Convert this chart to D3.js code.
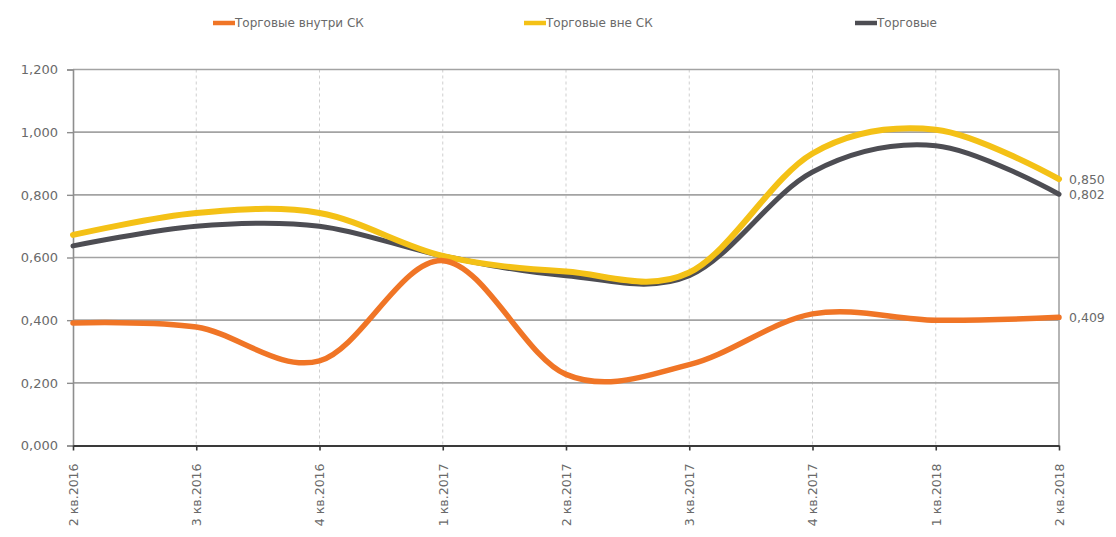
<!DOCTYPE html>
<html>
<head>
<meta charset="utf-8">
<script src="https://cdn.jsdelivr.net/npm/d3@7/dist/d3.min.js"></script>
<style>
  html, body { margin: 0; padding: 0; background: #fff; }
  svg { display: block; }
  text { font-family: "DejaVu Sans", Verdana, sans-serif; }
</style>
</head>
<body>
<svg id="chart" width="1116" height="537"></svg>
<script>
// Quarters on the x axis
const quarters = ["2 кв.2016", "3 кв.2016", "4 кв.2016", "1 кв.2017", "2 кв.2017",
                  "3 кв.2017", "4 кв.2017", "1 кв.2018", "2 кв.2018"];

// Series values per quarter
const insideSC  = [0.391, 0.378, 0.270, 0.590, 0.227, 0.258, 0.420, 0.400, 0.409];
const outsideSC = [0.672, 0.742, 0.742, 0.605, 0.555, 0.552, 0.932, 1.008, 0.850];
const retail    = [0.637, 0.700, 0.700, 0.605, 0.542, 0.542, 0.873, 0.957, 0.802];

const seriesNames = ["Торговые внутри СК", "Торговые вне СК", "Торговые"];
const yTicks = [0, 0.2, 0.4, 0.6, 0.8, 1.0, 1.2];

const series = [
  { name: seriesNames[0], values: insideSC,  color: "#f07526", width: 5.5 },
  { name: seriesNames[1], values: outsideSC, color: "#f4c116", width: 6 },
  { name: seriesNames[2], values: retail,    color: "#4d4d53", width: 5 }
];

const fmt = v => v.toFixed(3).replace(".", ",");

const svg = d3.select("#chart");
const plot = { left: 73, right: 1059, top: 69.5, bottom: 445.5 };

const x = d3.scalePoint().domain(quarters).range([plot.left, plot.right]);
const y = d3.scaleLinear().domain([0, 1.2]).range([plot.bottom, plot.top]);

// Vertical dashed gridlines
svg.append("g")
  .selectAll("line")
  .data(quarters.slice(1, -1))
  .join("line")
  .attr("x1", d => x(d)).attr("x2", d => x(d))
  .attr("y1", plot.top).attr("y2", plot.bottom)
  .attr("stroke", "#cfcfcf").attr("stroke-width", 1)
  .attr("stroke-dasharray", "3,3");

// Horizontal gridlines
svg.append("g")
  .selectAll("line")
  .data(yTicks.slice(1))
  .join("line")
  .attr("x1", plot.left).attr("x2", plot.right)
  .attr("y1", d => y(d)).attr("y2", d => y(d))
  .attr("stroke", "#a3a3a3").attr("stroke-width", 1.6);

// Right frame edge
svg.append("line")
  .attr("x1", plot.right).attr("x2", plot.right)
  .attr("y1", plot.top).attr("y2", plot.bottom)
  .attr("stroke", "#a3a3a3").attr("stroke-width", 1.6);

// Y axis
const yAxis = svg.append("g")
  .attr("transform", `translate(${plot.left},0)`)
  .call(d3.axisLeft(y).tickValues(yTicks).tickFormat(fmt).tickSize(6).tickPadding(9));
yAxis.select(".domain").attr("stroke", "#8e8e8e").attr("stroke-width", 1.6);
yAxis.selectAll(".tick line").attr("stroke", "#8e8e8e").attr("stroke-width", 1.4);
yAxis.selectAll(".tick text")
  .attr("fill", "#6a6a6a").attr("font-size", 13)
  .style("font-family", "'DejaVu Sans', Verdana, sans-serif");

// X axis
const xAxis = svg.append("g")
  .attr("transform", `translate(0,${plot.bottom})`)
  .call(d3.axisBottom(x).tickSize(5).tickSizeOuter(0));
xAxis.select(".domain").attr("stroke", "#3a3a3a").attr("stroke-width", 2.2);
xAxis.selectAll(".tick line").attr("stroke", "#3a3a3a").attr("stroke-width", 1.6);
xAxis.selectAll(".tick text")
  .attr("fill", "#6a6a6a").attr("font-size", 12.5)
  .style("font-family", "'DejaVu Sans', Verdana, sans-serif")
  .attr("text-anchor", "end")
  .attr("transform", "rotate(-90)")
  .attr("x", -18).attr("y", 0).attr("dy", "0.35em");

// Smoothed series lines
const line = d3.line()
  .x((d, i) => x(quarters[i]))
  .y(d => y(d))
  .curve(d3.curveCardinal.tension(0));

const drawOrder = [series[2], series[1], series[0]];
svg.append("g")
  .selectAll("path")
  .data(drawOrder)
  .join("path")
  .attr("d", d => line(d.values))
  .attr("fill", "none")
  .attr("stroke", d => d.color)
  .attr("stroke-width", d => d.width)
  .attr("stroke-linecap", "round")
  .attr("stroke-linejoin", "round");

// End-value labels
svg.append("g")
  .selectAll("text")
  .data(series)
  .join("text")
  .attr("x", plot.right + 10)
  .attr("y", d => y(d.values[d.values.length - 1]))
  .attr("dy", "0.35em")
  .attr("fill", "#6a6a6a")
  .attr("font-size", 12.5)
  .text(d => fmt(d.values[d.values.length - 1]));

// Legend
const legendX = [213, 524, 855];
const legend = svg.append("g")
  .selectAll("g")
  .data(series)
  .join("g")
  .attr("transform", (d, i) => `translate(${legendX[i]},23)`);
legend.append("line")
  .attr("x1", 0).attr("x2", 22).attr("y1", 0).attr("y2", 0)
  .attr("stroke", d => d.color).attr("stroke-width", 4.5);
legend.append("text")
  .attr("x", 22).attr("dy", "0.35em")
  .attr("fill", "#6a6a6a").attr("font-size", 12)
  .text(d => d.name);
</script>
</body>
</html>
